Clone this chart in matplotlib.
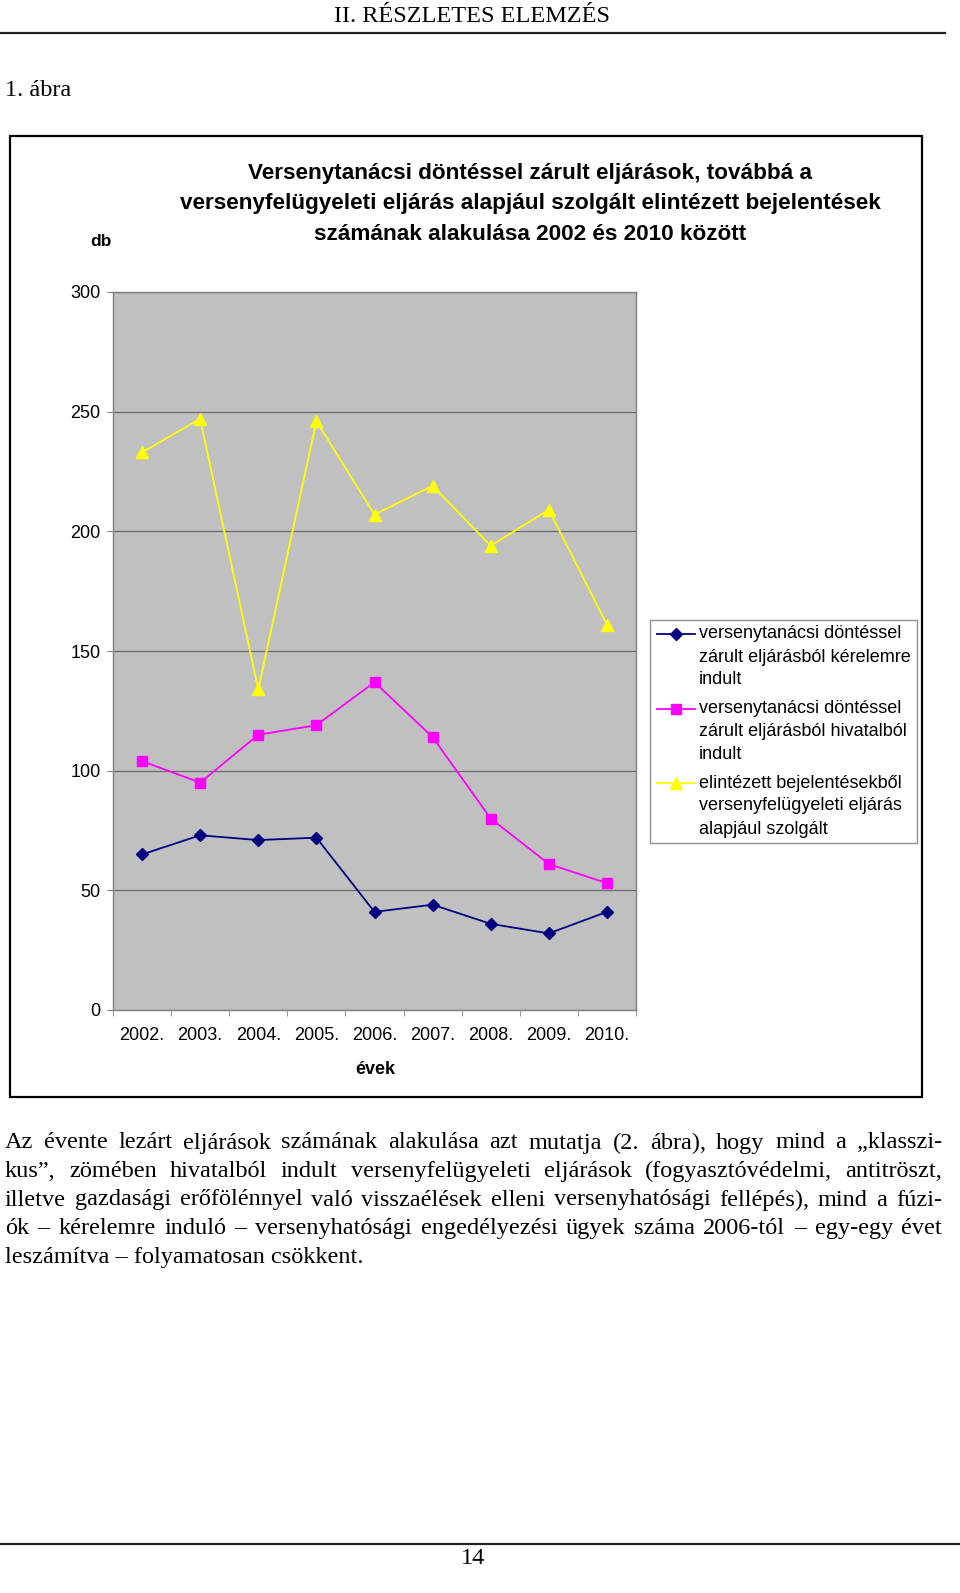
import matplotlib
matplotlib.use("Agg")
import matplotlib.pyplot as plt
from matplotlib.patches import Rectangle
from matplotlib.lines import Line2D

# ---------------- data ----------------
years = ["2002.", "2003.", "2004.", "2005.", "2006.", "2007.", "2008.", "2009.", "2010."]
kerelemre = [65, 73, 71, 72, 41, 44, 36, 32, 41]
hivatalbol = [104, 95, 115, 119, 137, 114, 80, 61, 53]
bejelentes = [233, 247, 134, 246, 207, 219, 194, 209, 161]
series_labels = [
    "versenytanácsi döntéssel\nzárult eljárásból kérelemre\nindult",
    "versenytanácsi döntéssel\nzárult eljárásból hivatalból\nindult",
    "elintézett bejelentésekből\nversenyfelügyeleti eljárás\nalapjául szolgált",
]
y_ticks = [0, 50, 100, 150, 200, 250, 300]
title_lines = [
    "Versenytanácsi döntéssel zárult eljárások, továbbá a",
    "versenyfelügyeleti eljárás alapjául szolgált elintézett bejelentések",
    "számának alakulása 2002 és 2010 között",
]
body_lines = [
    "Az évente lezárt eljárások számának alakulása azt mutatja (2. ábra), hogy mind a „klasszi-",
    "kus”, zömében hivatalból indult versenyfelügyeleti eljárások (fogyasztóvédelmi, antitröszt,",
    "illetve gazdasági erőfölénnyel való visszaélések elleni versenyhatósági fellépés), mind a fúzi-",
    "ók – kérelemre induló – versenyhatósági engedélyezési ügyek száma 2006-tól – egy-egy évet",
    "leszámítva – folyamatosan csökkent.",
]

W, H = 960, 1593
fig = plt.figure(figsize=(W / 100, H / 100), dpi=100)
SANS = ["Liberation Sans", "DejaVu Sans"]
SERIF = ["Liberation Serif", "DejaVu Serif"]


def fx(x):
    return x / W


def fy(y):
    return 1 - y / H


# page header
fig.text(fx(472), fy(17), "II. RÉSZLETES ELEMZÉS", family=SERIF, fontsize=17.5,
         ha="center", va="center")
fig.add_artist(Line2D([fx(0), fx(945)], [fy(33), fy(33)], color="#222222", lw=1.6,
                      transform=fig.transFigure))
fig.text(fx(5), fy(90), "1. ábra", family=SERIF, fontsize=17.5, ha="left", va="center")

# chart frame
fig.add_artist(Rectangle((fx(10), fy(1097)), fx(922) - fx(10), fy(136) - fy(1097),
                         transform=fig.transFigure, fill=False, edgecolor="black", lw=1.6))

# title
for i, line in enumerate(title_lines):
    fig.text(fx(530), fy(174 + 30 * i), line, family=SANS, fontsize=16.2,
             fontweight="bold", ha="center", va="center")
fig.text(fx(101), fy(241), "db", family=SANS, fontsize=12.5, fontweight="bold",
         ha="center", va="center")

# plot area
ax = fig.add_axes([fx(113), fy(1010), fx(636) - fx(113), fy(292) - fy(1010)])
ax.set_facecolor("#C0C0C0")
x = list(range(len(years)))
styles = [
    dict(color="#000080", marker="D", markersize=6.5),
    dict(color="#FF00FF", marker="s", markersize=6.5),
    dict(color="#FFFF00", marker="^", markersize=8),
]
for vals, st in zip([kerelemre, hivatalbol, bejelentes], styles):
    ax.plot(x, vals, lw=1.3, **st)
ax.set_xlim(-0.5, len(years) - 0.5)
ax.set_ylim(0, 300)
ax.set_yticks(y_ticks)
ax.set_yticklabels([str(v) for v in y_ticks], family=SANS, fontsize=13)
ax.set_xticks(x)
ax.set_xticklabels(years, family=SANS, fontsize=13)
ax.set_xticks([i - 0.5 for i in range(len(years) + 1)], minor=True)
ax.tick_params(axis="x", which="major", length=0, pad=12)
ax.tick_params(axis="x", which="minor", length=4, color="#808080", direction="out")
ax.tick_params(axis="y", which="major", length=4, color="#808080", pad=5)
ax.yaxis.grid(True, color="#6a6a6a", lw=0.9)
ax.set_axisbelow(True)
for s in ax.spines.values():
    s.set_color("#808080")
    s.set_linewidth(1.0)
fig.text(fx(375), fy(1069), "évek", family=SANS, fontsize=13, fontweight="bold",
         ha="center", va="center")

# legend (drawn by hand so the key sits on the first label line)
fig.add_artist(Rectangle((fx(650), fy(843)), fx(917) - fx(650), fy(620) - fy(843),
                         transform=fig.transFigure, facecolor="white",
                         edgecolor="#909090", lw=1.0))
for i, (lab, st) in enumerate(zip(series_labels, styles)):
    y0 = 634 + 74.5 * i
    fig.add_artist(Line2D([fx(657), fx(676), fx(695)], [fy(y0)] * 3, lw=1.3,
                          markevery=[1], transform=fig.transFigure, **st))
    for k, part in enumerate(lab.split("\n")):
        fig.text(fx(699), fy(y0 + 23 * k), part, family=SANS, fontsize=13,
                 ha="left", va="center")

# body text, justified
renderer = fig.canvas.get_renderer()
left, right = 5, 942
for i, line in enumerate(body_lines):
    ypos = fy(1143 + 28.5 * i)
    words = line.split(" ")
    if i == len(body_lines) - 1:
        fig.text(fx(left), ypos, line, family=SERIF, fontsize=17.5, ha="left", va="center")
        continue
    texts = [fig.text(0, ypos, w, family=SERIF, fontsize=17.5, ha="left", va="center")
             for w in words]
    widths = [t.get_window_extent(renderer).width for t in texts]
    gap = (right - left - sum(widths)) / (len(words) - 1)
    cur = left
    for t, wd in zip(texts, widths):
        t.set_x(fx(cur))
        cur += wd + gap

# footer
fig.add_artist(Line2D([fx(0), fx(960)], [fy(1544), fy(1544)], color="#222222", lw=1.6,
                      transform=fig.transFigure))
fig.text(fx(473), fy(1558), "14", family=SERIF, fontsize=17.5, ha="center", va="center")

fig.savefig("out.png", dpi=100)
